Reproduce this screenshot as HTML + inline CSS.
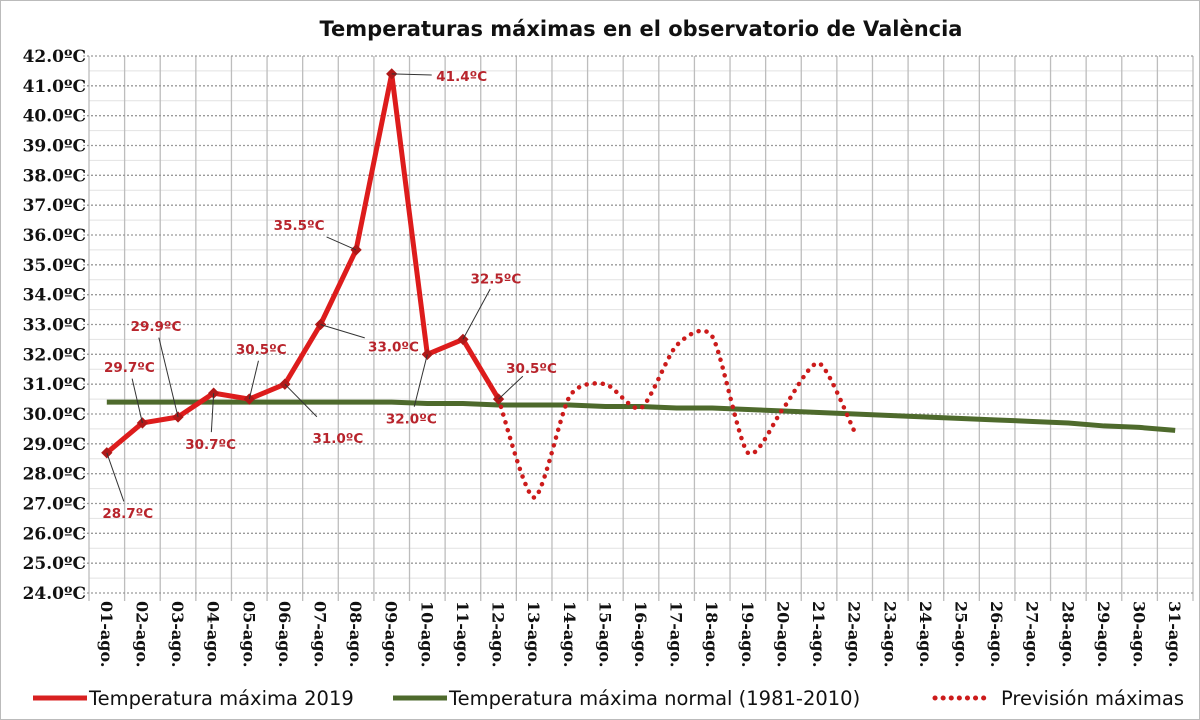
<!DOCTYPE html>
<html><head><meta charset="utf-8">
<style>
html,body{margin:0;padding:0;background:#fff;}
#wrap{position:relative;width:1200px;height:720px;background:#fff;border:1px solid #bbb;box-sizing:border-box;overflow:hidden;}
svg{position:absolute;left:0;top:0;}
.yl{font-family:"DejaVu Serif","Liberation Serif",serif;font-weight:bold;font-size:17px;fill:#111;}
.xl{font-family:"DejaVu Serif","Liberation Serif",serif;font-weight:bold;font-size:16px;fill:#111;}
.dl{font-family:"DejaVu Sans","Liberation Sans",sans-serif;font-weight:bold;font-size:13.5px;fill:#b8242c;}
.title{font-family:"DejaVu Sans","Liberation Sans",sans-serif;font-weight:bold;font-size:21px;fill:#111;}
.lg{font-family:"DejaVu Sans","Liberation Sans",sans-serif;font-size:19.5px;fill:#111;}
</style></head>
<body>
<div id="wrap">
<svg id="chart" width="1200" height="720"></svg>
</div>
<script>
const categories = Array.from({length:31},(_,i)=>String(i+1).padStart(2,'0')+'-ago.');
const observed = [28.7,29.7,29.9,30.7,30.5,31.0,33.0,35.5,41.4,32.0,32.5,30.5];
const normal = [30.4,30.4,30.4,30.4,30.4,30.4,30.4,30.4,30.4,30.35,30.35,30.3,30.3,30.3,30.25,30.25,30.2,30.2,30.15,30.1,30.05,30.0,29.95,29.9,29.85,29.8,29.75,29.7,29.6,29.55,29.45];
const forecastStart = 11;
const forecast = [30.5,27.2,30.6,31.0,30.2,32.3,32.6,28.7,30.2,31.7,29.4];
const yTicks = [24,25,26,27,28,29,30,31,32,33,34,35,36,37,38,39,40,41,42];
const labelOffsets = [[21,60],[-13,-56],[-22,-91],[-3,51],[12,-50],[53,54],[73,22],[-57,-25],[70,2],[-16,64],[33,-61],[33,-31]];

const NS='http://www.w3.org/2000/svg';
const svg=document.getElementById('chart');
const L=88,R=1192,T=55,B=592,yMin=24,yMax=42;
const step=(R-L)/categories.length;
const xS=i=>L+step*(i+0.5);
const yS=v=>B-(v-yMin)/(yMax-yMin)*(B-T);
function el(tag,attrs){const e=document.createElementNS(NS,tag);for(const k in attrs)e.setAttribute(k,attrs[k]);svg.appendChild(e);return e;}

let t=el('text',{x:640,y:35,'text-anchor':'middle',class:'title'});t.textContent='Temperaturas máximas en el observatorio de València';


for(let v=yMin+0.5;v<yMax;v+=1){const g=el('line',{x1:L,x2:R,y1:yS(v),y2:yS(v),stroke:'#e2e2e2','stroke-width':1});
}
for(let i=0;i<=categories.length;i++){const g=el('line',{x1:L+step*i,x2:L+step*i,y1:T,y2:B+8,stroke:'#bdbdbd','stroke-width':1.3});
}
yTicks.forEach(v=>{const g=el('line',{x1:L-6,x2:R,y1:yS(v),y2:yS(v),stroke:'#9a9a9a','stroke-width':1.3,'stroke-dasharray':'2,2'});

const tx=el('text',{x:85,y:yS(v)+6,'text-anchor':'end',class:'yl'});tx.textContent=v.toFixed(1)+'ºC';
});
categories.forEach((c,i)=>{const tx=el('text',{x:0,y:0,class:'xl',transform:`translate(${xS(i)-6},${B+8}) rotate(90)`});tx.textContent=c;
});

let p=el('polyline',{points:normal.map((v,i)=>xS(i)+','+yS(v)).join(' '),fill:'none',stroke:'#4e6a2c','stroke-width':5});


const fp=forecast.map((v,i)=>[xS(forecastStart+i),yS(v)]);
let d='M'+fp[0][0]+','+fp[0][1];
const k=8;
for(let i=0;i<fp.length-1;i++){const p0=fp[Math.max(0,i-1)],p1=fp[i],p2=fp[i+1],p3=fp[Math.min(fp.length-1,i+2)];
d+=` C${p1[0]+(p2[0]-p0[0])/k},${p1[1]+(p2[1]-p0[1])/k} ${p2[0]-(p3[0]-p1[0])/k},${p2[1]-(p3[1]-p1[1])/k} ${p2[0]},${p2[1]}`;}
p=el('path',{d:d,fill:'none',stroke:'#cc1b1b','stroke-width':4.5,'stroke-dasharray':'0.1,8','stroke-linecap':'round'});


p=el('polyline',{points:observed.map((v,i)=>xS(i)+','+yS(v)).join(' '),fill:'none',stroke:'#dd1c1c','stroke-width':5,'stroke-linejoin':'round'});

observed.forEach((v,i)=>{const x=xS(i),y=yS(v);
const m=el('rect',{x:x-4,y:y-4,width:8,height:8,fill:'#b01818',transform:`rotate(45 ${x} ${y})`});

const [dx,dy]=labelOffsets[i];
const len=Math.hypot(dx,dy),sh=Math.abs(dx)>50?30:12;
const f=Math.max(0,(len-sh)/len);
const ln=el('line',{x1:x,y1:y,x2:x+dx*f,y2:y+dy*f,stroke:'#333','stroke-width':1});

const tx=el('text',{x:x+dx,y:y+dy+5,'text-anchor':'middle',class:'dl'});tx.textContent=v.toFixed(1)+'ºC';
});

function legend(x,tx0,txt,col,dash,name){const l=el('line',{x1:x,x2:x+54,y1:697,y2:697,stroke:col,'stroke-width':5,'stroke-dasharray':dash,'stroke-linecap':dash?'round':'butt'});

const tx=el('text',{x:tx0,y:704,class:'lg'});tx.textContent=txt;}
legend(32,88,'Temperatura máxima 2019','#d82020','','legend-observed');
legend(392,448,'Temperatura máxima normal (1981-2010)','#4e6a2c','','legend-normal');
legend(934,1000,'Previsión máximas','#cc1b1b','0.1,8','legend-forecast');
</script>
</body></html>
